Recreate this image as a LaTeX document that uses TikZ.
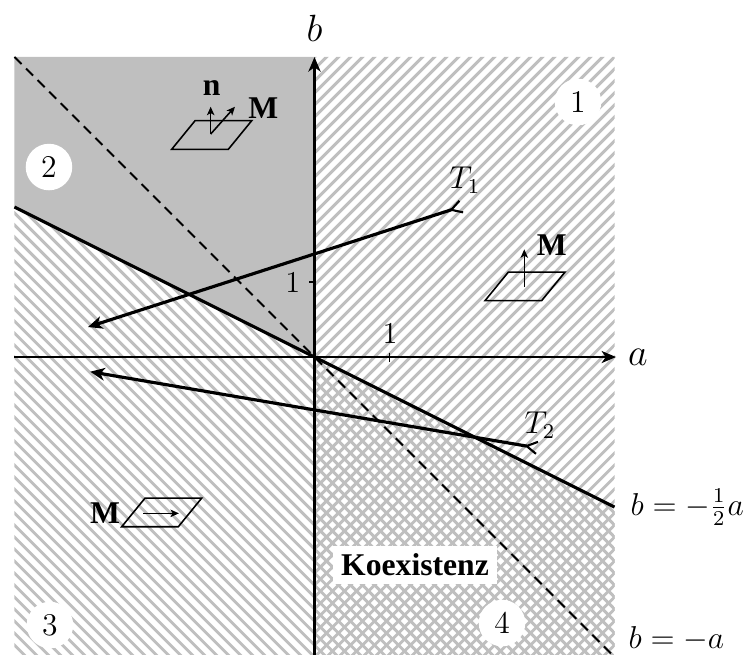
\documentclass[tikz,border=0pt]{standalone}
\usepackage{fontspec}
\newfontfamily\timesf{Liberation Serif}
\usetikzlibrary{arrows.meta}
\begin{document}
\begin{tikzpicture}[x=1cm,y=1cm,
  hatchline/.style={line width=1.1pt, draw=black!25},
  thickline/.style={line width=1.2pt},
  circlab/.style={circle, fill=white, minimum size=0.62cm, inner sep=0pt, font=\fontsize{12}{14}\selectfont},
  mlab/.style={font=\fontsize{11.5}{14}\selectfont},
  boldlab/.style={font=\fontsize{12}{14}\selectfont\timesf\bfseries, inner sep=1pt},
  axlab/.style={font=\fontsize{14.4}{17}\selectfont},
  icon/.style={line width=0.6pt},
  iconarrow/.style={icon, -{Stealth[length=3.2pt,width=2.8pt,inset=0.8pt]}},
  bigtip/.style={-{Stealth[length=5.5pt,width=4.6pt,inset=1.6pt]}},
  tarrow/.style={thickline, {Stealth[length=5.5pt,width=4.8pt,inset=1.6pt]}-{Straight Barb[reversed,length=4pt,width=4.6pt,line width=0.8pt]}},
  pgram/.style={icon}
]
\useasboundingbox (-4.193,-3.96) rectangle (5.753,4.76);

% region 2: gray
\fill[black!25] (-4,4) -- (0,4) -- (0,0) -- (-4,2) -- cycle;
% region 1: ///
\begin{scope}
  \clip (0,4) -- (4,4) -- (4,-2) -- (0,0) -- cycle;
  \foreach \i in {-55,...,55} \draw[hatchline] (-5,-5+\i*0.16) -- (5,5+\i*0.16);
\end{scope}
% region 3: \\\
\begin{scope}
  \clip (-4,2) -- (0,0) -- (0,-4) -- (-4,-4) -- cycle;
  \foreach \i in {-55,...,55} \draw[hatchline] (-5,5+\i*0.16) -- (5,-5+\i*0.16);
\end{scope}
% region 4: crosshatch
\begin{scope}
  \clip (0,0) -- (4,-2) -- (4,-4) -- (0,-4) -- cycle;
  \foreach \i in {-55,...,55} {
    \draw[hatchline] (-5,-5+\i*0.16) -- (5,5+\i*0.16);
    \draw[hatchline] (-5,5+\i*0.16) -- (5,-5+\i*0.16);
  }
\end{scope}

% named points
\coordinate (O) at (0,0);
\coordinate (xs) at (-4,0);
\coordinate (xe) at (4.02,0);
\coordinate (ys) at (0,-4);
\coordinate (ye) at (0,4);
\coordinate (h1) at (-4,2);
\coordinate (h2) at (4,-2);
\coordinate (d1) at (-4,4);
\coordinate (d2) at (4,-4);
\coordinate (t1s) at (-3.02,0.40);
\coordinate (t1e) at (1.97,2.01);
\coordinate (t2s) at (-2.99,-0.196);
\coordinate (t2e) at (2.98,-1.213);

% dashed b=-a
\draw[line width=0.7pt, dash pattern=on 3.8pt off 2.4pt] (d1) -- (d2);
% axes
\draw[line width=0.5pt, bigtip] (xs) -- (xe);
\draw[thickline, bigtip] (ys) -- (ye);
\draw[line width=0.4pt] (1,-0.06) -- (1,0.06);
\draw[line width=0.4pt] (-0.07,1) -- (0,1);
% b = -a/2
\draw[thickline] (h1) -- (h2);
% T paths
\draw[tarrow] (t1s) -- (t1e);
\draw[tarrow] (t2s) -- (t2e);

% labels
\node[axlab] (blab) at (0,4.387) {$b$};
\node[axlab] (alab) at (4.313,0) {$a$};
\node[mlab] (ytick) at (-0.29,0.99) {1};
\node[mlab] (xtick) at (1.007,0.32) {1};
\node[mlab] (T1) at (2.007,2.36) {$T_1$};
\node[mlab] (T2) at (3.007,-0.907) {$T_2$};
\node[mlab, anchor=base west, inner sep=0pt] (eq1) at (4.207,-2.107) {$b=-\frac{1}{2}a$};
\node[mlab, anchor=base west, inner sep=0pt] (eq2) at (4.18,-3.88) {$b=-a$};

\node[circlab] (r1) at (3.513,3.40) {1};
\node[circlab] (r2) at (-3.54,2.533) {2};
\node[circlab] (r3) at (-3.527,-3.573) {3};
\node[circlab] (r4) at (2.5,-3.547) {4};

\node[boldlab, fill=white, inner sep=3pt] (koex) at (1.34,-2.773) {Koexistenz};

% icon region 2
\draw[pgram] (-1.904,2.769) -- ++(0.755,0) -- ++(0.312,0.382) -- ++(-0.755,0) -- cycle;
\coordinate (p2) at (-1.384,2.973);
\coordinate (p2n) at (-1.384,3.337);
\coordinate (p2m) at (-1.06,3.337);
\draw[iconarrow] (p2) -- (p2n);
\draw[iconarrow] (p2) -- (p2m);
\node[boldlab] (n2) at (-1.371,3.587) {n};
\node[boldlab] (M2) at (-0.683,3.316) {M};

% icon region 1
\draw[pgram] (2.273,0.751) -- ++(0.755,0) -- ++(0.312,0.382) -- ++(-0.755,0) -- cycle;
\coordinate (p1) at (2.797,0.937);
\coordinate (p1m) at (2.797,1.436);
\draw[iconarrow] (p1) -- (p1m);
\node[boldlab] (M1) at (3.163,1.493) {M};

% icon region 3
\draw[pgram] (-2.571,-2.263) -- ++(0.755,0) -- ++(0.312,0.382) -- ++(-0.755,0) -- cycle;
\coordinate (p3) at (-2.283,-2.084);
\coordinate (p3m) at (-1.807,-2.084);
\draw[iconarrow] (p3) -- (p3m);
\node[boldlab] (M3) at (-2.793,-2.084) {M};

\end{tikzpicture}
\end{document}
